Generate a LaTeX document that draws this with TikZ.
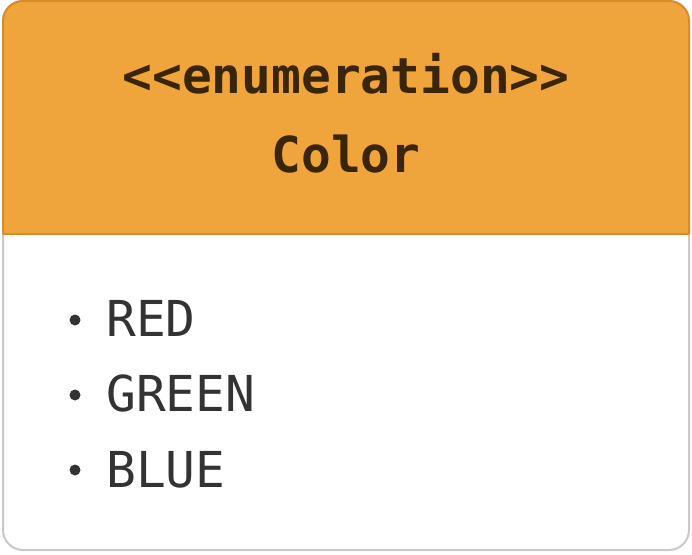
\documentclass[tikz,border=0pt]{standalone}
\usepackage{fontspec}
\newfontfamily\monofam{DejaVu Sans Mono}
\definecolor{hdrfill}{HTML}{F0A43C}
\definecolor{hdrline}{HTML}{D88C28}
\definecolor{boxline}{HTML}{C9C9C9}
\definecolor{hdrtext}{HTML}{3A2508}
\definecolor{bodytext}{HTML}{333333}
\tikzset{
  titletext/.style={anchor=base, inner sep=0pt, text=hdrtext, font=\monofam\bfseries\fontsize{49.5}{58}\selectfont},
  itemtext/.style={anchor=base west, inner sep=0pt, text=bodytext, font=\monofam\fontsize{49.5}{58}\selectfont},
  bulletmark/.style={circle, fill=bodytext, inner sep=0pt, minimum size=11pt}
}
\begin{document}
\begin{tikzpicture}[x=1pt,y=-1pt]
\useasboundingbox (0,0) rectangle (692,554);
% body
\fill[white, rounded corners=20pt] (3,1) rectangle (689,550);
\draw[boxline, line width=2pt, rounded corners=20pt] (3,1) rectangle (689,550);
% header
\fill[hdrfill] (3,234) -- (3,21) arc[start angle=180, end angle=90, radius=20pt] -- (669,1) arc[start angle=90, end angle=0, radius=20pt] -- (689,234) -- cycle;
\draw[hdrline, line width=2pt] (3,234) -- (3,21) arc[start angle=180, end angle=90, radius=20pt] -- (669,1) arc[start angle=90, end angle=0, radius=20pt] -- (689,234);
\draw[hdrline, line width=1.5pt] (3,234) -- (689,234);
% texts
\node[titletext] (stereo) at (346,93) {<{}<enumeration>{}>};
\node[titletext] (name) at (346,172) {Color};
\node[bulletmark] (b1) at (75,320) {};
\node[itemtext] (i1) at (106,336) {RED};
\node[bulletmark] (b2) at (75,395) {};
\node[itemtext] (i2) at (106,411) {GREEN};
\node[bulletmark] (b3) at (75,470) {};
\node[itemtext] (i3) at (106,487) {BLUE};
\end{tikzpicture}
\end{document}
